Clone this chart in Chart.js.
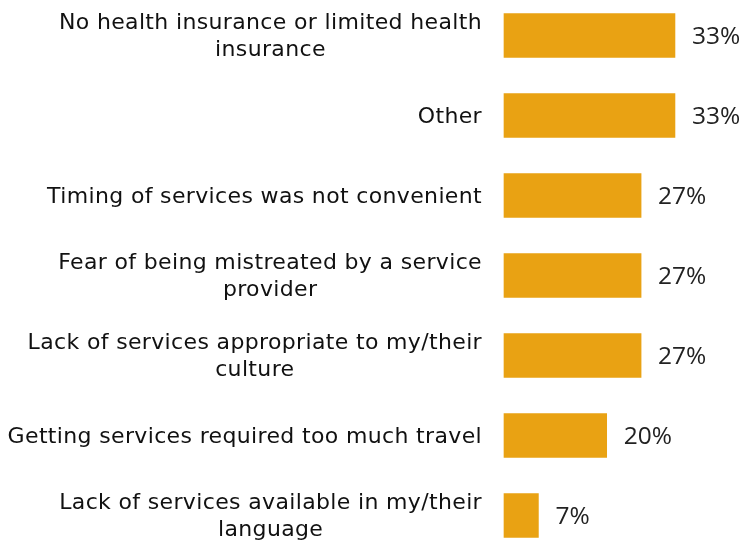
<!DOCTYPE html>
<html>
<head>
<meta charset="utf-8">
<script src="https://cdn.jsdelivr.net/npm/chart.js@4"></script>
<style>
  html, body { margin: 0; padding: 0; background: #fff; }
  #wrap { width: 747px; height: 543px; }
</style>
</head>
<body>
<div id="wrap"><canvas id="bar-chart"></canvas></div>
<script>
// categories, each one an array of lines as in the picture
const reasons = [
    ["No health insurance or limited health", "insurance"],
    ["Other"],
    ["Timing of services was not convenient"],
    ["Fear of being mistreated by a service", "provider"],
    ["Lack of services appropriate to my/their", "culture"],
    ["Getting services required too much travel"],
    ["Lack of services available in my/their", "language"]
];
const shares = [33.3, 33.3, 26.7, 26.7, 26.7, 20, 6.7];
const shareLabels = ["33%", "33%", "27%", "27%", "27%", "20%", "7%"];

// draws the left labels (block right aligned, lines centered) and the value labels
const labelPlugin = {
    id: 'labels',
    afterDraw(chart) {
        const ctx = chart.ctx;
        const y = chart.scales.y;
        const x = chart.scales.x;
        ctx.save();
        ctx.fillStyle = '#111';
        ctx.textBaseline = 'middle';
        ctx.font = '22px "DejaVu Sans"';
        ctx.letterSpacing = '0.35px';
        const right = y.right - 22;
        const lh = 27;
        reasons.forEach((lines, i) => {
            const cy = y.getPixelForTick(i) + 1.5;
            const w = Math.max(...lines.map(l => ctx.measureText(l).width));
            const cx = right - w / 2;
            ctx.textAlign = 'center';
            lines.forEach((l, j) => {
                ctx.fillText(l, cx, cy + (j - (lines.length - 1) / 2) * lh);
            });
        });
        ctx.letterSpacing = '0px';
        ctx.font = '24.5px "Open Sans"';
        ctx.fillStyle = '#222';
        ctx.textAlign = 'left';
        shares.forEach((v, i) => {
            ctx.fillText(shareLabels[i], x.getPixelForValue(v) + 17, y.getPixelForTick(i) + 2);
        });
        ctx.restore();
    }
};

const canvas = document.getElementById("bar-chart");
const ctx = canvas.getContext("2d");
const chart = new Chart(ctx, {
    type: 'bar',
    data: {
        labels: reasons,
        datasets: [{
            data: shares,
            backgroundColor: '#E9A213',
            barThickness: 44,
            clip: false
        }]
    },
    options: {
        indexAxis: 'y',
        responsive: true,
        maintainAspectRatio: false,
        animation: false,
        layout: { padding: { top: 35.5, bottom: 27.5, left: 0, right: 13 } },
        plugins: { legend: { display: false }, tooltip: { enabled: false } },
        scales: {
            x: {
                min: 0,
                max: 44.8,
                display: false
            },
            y: {
                offset: false,
                grid: { display: false },
                border: { display: false },
                ticks: { display: false },
                afterFit(scale) { scale.width = 504; }
            }
        }
    },
    plugins: [labelPlugin]
});
</script>
</body>
</html>
